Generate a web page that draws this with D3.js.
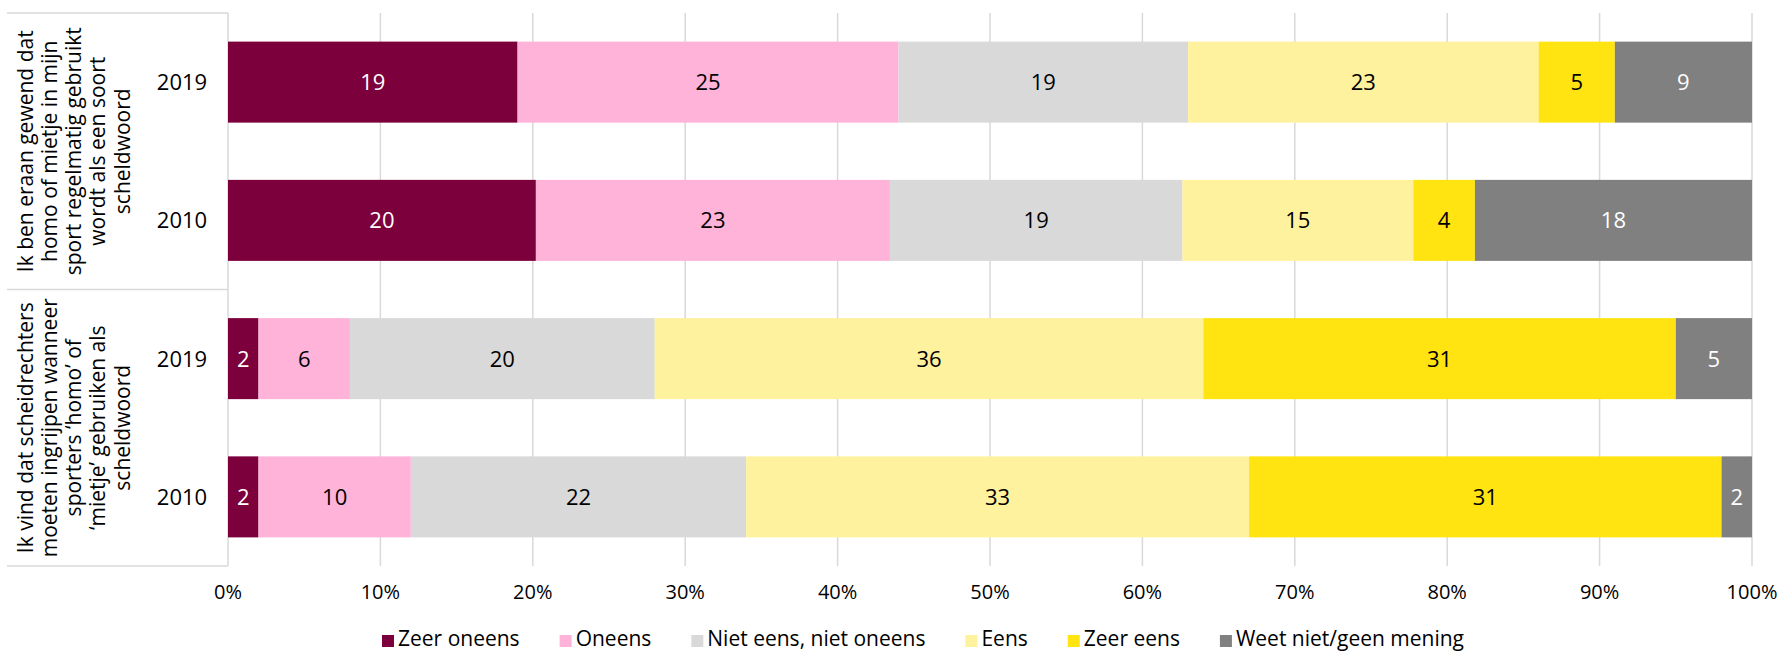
<!DOCTYPE html>
<html>
<head>
<meta charset="utf-8">
<script src="https://cdn.jsdelivr.net/npm/d3@7"></script>
<style>
  body { margin: 0; background: #fff; }
  svg text { font-family: "Open Sans", "Noto Sans", sans-serif; fill: #000; }
</style>
</head>
<body>
<div id="chart"></div>
<script>
// answer categories (legend order = stack order)
const categories = ["Zeer oneens", "Oneens", "Niet eens, niet oneens", "Eens", "Zeer eens", "Weet niet/geen mening"];
const colors = ["#7b003c", "#ffb3d9", "#d9d9d9", "#fff29f", "#ffe411", "#808080"];
const whiteLabel = [true, false, false, false, false, true];

// the two statements, already split in lines like the original
const statement1 = ["Ik ben eraan gewend dat", "homo of mietje in mijn", "sport regelmatig gebruikt", "wordt als een soort", "scheldwoord"];
const statement2 = ["Ik vind dat scheidrechters", "moeten ingrijpen wanneer", "sporters \u2018homo\u2019 of", "\u2018mietje\u2019 gebruiken als", "scheldwoord"];
const years = ["2019", "2010"];

// percentages per bar
const s1_2019 = [19, 25, 19, 23, 5, 9];
const s1_2010 = [20, 23, 19, 15, 4, 18];
const s2_2019 = [2, 6, 20, 36, 31, 5];
const s2_2010 = [2, 10, 22, 33, 31, 2];

const xTicks = [0, 0.1, 0.2, 0.3, 0.4, 0.5, 0.6, 0.7, 0.8, 0.9, 1];

//chart size and plot area (note: "top" is taken by window.top)
var w = 1783,
    h = 652,
    plotL = 228, plotR = 1752,
    plotT = 13, plotB = 566;

// rows for the stack
var rows = [
  {id: "s1-2019", group: 0, year: years[0], vals: s1_2019},
  {id: "s1-2010", group: 0, year: years[1], vals: s1_2010},
  {id: "s2-2019", group: 1, year: years[0], vals: s2_2019},
  {id: "s2-2010", group: 1, year: years[1], vals: s2_2010}
];
rows.forEach(function(r) {
  categories.forEach(function(c, i) { r[c] = r.vals[i]; });
});

var svg = d3.select("#chart").append("svg").attr("width", w).attr("height", h);

var x = d3.scaleLinear().domain([0, 1]).range([plotL, plotR]);
var y = d3.scaleBand().domain(rows.map(d => d.id)).range([plotT, plotB])
  .paddingInner(0.414).paddingOuter(0.207);

// gridlines
svg.append("g").selectAll("line")
  .data(xTicks.slice(1))
  .enter().append("line")
    .attr("x1", d => x(d)).attr("x2", d => x(d))
    .attr("y1", plotT).attr("y2", plotB)
    .style("stroke", "#d9d9d9").style("stroke-width", 1.5);

// category box lines on the left + axis line
var groupEdges = [plotT, (y("s1-2010") + y.bandwidth() + y("s2-2019")) / 2, plotB];
svg.append("g").selectAll("line")
  .data(groupEdges)
  .enter().append("line")
    .attr("x1", 7).attr("x2", plotL)
    .attr("y1", d => d).attr("y2", d => d)
    .style("stroke", "#d9d9d9").style("stroke-width", 1.5);
svg.append("line")
  .attr("x1", plotL).attr("x2", plotL).attr("y1", plotT).attr("y2", plotB)
  .style("stroke", "#d9d9d9").style("stroke-width", 1.5);

// stacked (100%) bars
var stack = d3.stack().keys(categories).offset(d3.stackOffsetExpand);
var series = stack(rows);

var layer = svg.append("g").selectAll("g")
  .data(series)
  .enter().append("g")
    .style("fill", (d, i) => colors[i]);

layer.selectAll("rect")
  .data(d => d)
  .enter().append("rect")
    .attr("x", d => x(d[0]))
    .attr("width", d => x(d[1]) - x(d[0]))
    .attr("y", d => y(d.data.id))
    .attr("height", y.bandwidth());

// value labels
series.forEach(function(s, i) {
  svg.append("g").selectAll("text")
    .data(s)
    .enter().append("text")
      .attr("x", d => (x(d[0]) + x(d[1])) / 2)
      .attr("y", d => y(d.data.id) + y.bandwidth() / 2)
      .attr("dy", "0.36em")
      .attr("text-anchor", "middle")
      .style("font-size", "22px")
      .style("fill", whiteLabel[i] ? "#fff" : "#000")
      .text(d => d.data.vals[i]);
});

// year labels
svg.append("g").selectAll("text")
  .data(rows)
  .enter().append("text")
    .attr("x", 182)
    .attr("y", d => y(d.id) + y.bandwidth() / 2)
    .attr("dy", "0.36em")
    .attr("text-anchor", "middle")
    .style("font-size", "22px")
    .text(d => d.year);

// rotated statement labels
[statement1, statement2].forEach(function(lines, g) {
  var cy = (groupEdges[g] + groupEdges[g + 1]) / 2;
  var t = svg.append("text")
    .attr("transform", "translate(73.6," + cy + ") rotate(-90)")
    .attr("text-anchor", "middle")
    .style("font-size", "21px");
  t.selectAll("tspan")
    .data(lines)
    .enter().append("tspan")
      .attr("x", 0)
      .attr("y", (d, i) => (i - 2) * 24.3)
      .attr("dy", "0.36em")
      .text(d => d);
});

// x axis tick labels
svg.append("g").selectAll("text")
  .data(xTicks)
  .enter().append("text")
    .attr("x", d => x(d))
    .attr("y", 599)
    .attr("text-anchor", "middle")
    .style("font-size", "20px")
    .text(d3.format(".0%"));

// legend
var legend = svg.append("g");
var lx = 0, gap = 40;
categories.forEach(function(c, i) {
  var item = legend.append("g").attr("transform", "translate(" + lx + ",0)");
  item.append("rect")
    .attr("x", 0).attr("y", 635)
    .attr("width", 12).attr("height", 12)
    .style("fill", colors[i]);
  var txt = item.append("text")
    .attr("x", 16).attr("y", 646)
    .style("font-size", "21px")
    .text(c);
  lx += 16 + txt.node().getComputedTextLength() + gap;
});
var legendWidth = lx - gap;
legend.attr("transform", "translate(" + (923 - legendWidth / 2) + ",0)");
</script>
</body>
</html>
